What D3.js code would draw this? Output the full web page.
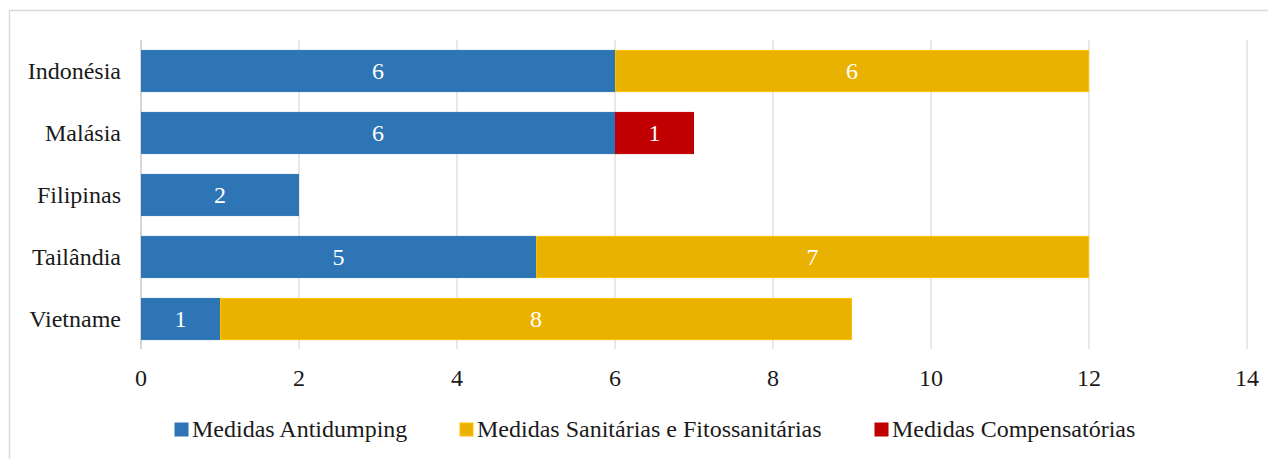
<!DOCTYPE html>
<html>
<head>
<meta charset="utf-8">
<script src="https://cdn.jsdelivr.net/npm/d3@7"></script>
<style>
  body { margin: 0; background: #fff; }
  svg { display: block; font-family: "Liberation Serif", "Times New Roman", serif; }
</style>
</head>
<body>
<svg id="chart" width="1268" height="459"></svg>
<script>
// Chart data
const countries = ["Indonésia", "Malásia", "Filipinas", "Tailândia", "Vietname"];
const series = ["Medidas Antidumping", "Medidas Sanitárias e Fitossanitárias", "Medidas Compensatórias"];
const antidumping = [6, 6, 2, 5, 1];
const sanitarias = [6, 0, 0, 7, 8];
const compensatorias = [0, 1, 0, 0, 0];
const xTicks = [0, 2, 4, 6, 8, 10, 12, 14];

const colors = ["#2E75B6", "#EAB200", "#C00000"];
const strokes = ["#2E75B6", "#FFC000", "#C00000"];
const fontSize = 24;

const svg = d3.select("#chart");

// outer chart border (cropped on right / bottom)
svg.append("path")
  .attr("d", "M9.5,459 V10.5 H1268")
  .attr("fill", "none")
  .attr("stroke", "#d9d9d9")
  .attr("stroke-width", 1.5);

const x = d3.scaleLinear().domain([0, 14]).range([141, 1247]);
const y = d3.scaleBand().domain(countries).range([40, 350]).paddingInner(0.32).paddingOuter(0.16);

// gridlines
svg.append("g").selectAll("line")
  .data(xTicks)
  .join("line")
  .attr("x1", d => x(d)).attr("x2", d => x(d))
  .attr("y1", 40).attr("y2", 349)
  .attr("stroke", d => d === 0 ? "#c8c8c8" : "#e0e0e0")
  .attr("stroke-width", 1.5);

// stack
const rows = countries.map((c, i) => ({
  country: c,
  [series[0]]: antidumping[i],
  [series[1]]: sanitarias[i],
  [series[2]]: compensatorias[i]
}));
const stacked = d3.stack().keys(series)(rows);

const layers = svg.append("g").selectAll("g")
  .data(stacked)
  .join("g")
  .attr("fill", (d, i) => colors[i])
  .attr("stroke", (d, i) => strokes[i]);

layers.selectAll("rect")
  .data(d => d.filter(p => p[1] > p[0]))
  .join("rect")
  .attr("x", p => x(p[0]) + 0.5)
  .attr("y", p => y(p.data.country) + 0.5)
  .attr("width", p => x(p[1]) - x(p[0]) - 1)
  .attr("height", y.bandwidth() - 1)
  .attr("stroke-width", 1);

// value labels
layers.selectAll("text")
  .data(d => d.filter(p => p[1] > p[0]))
  .join("text")
  .attr("x", p => (x(p[0]) + x(p[1])) / 2)
  .attr("y", p => y(p.data.country) + y.bandwidth() / 2)
  .attr("dy", "0.35em")
  .attr("text-anchor", "middle")
  .attr("fill", "#fff")
  .attr("stroke", "none")
  .attr("font-size", fontSize)
  .text(p => p[1] - p[0]);

// y axis labels
svg.append("g").selectAll("text")
  .data(countries)
  .join("text")
  .attr("x", 121)
  .attr("y", d => y(d) + y.bandwidth() / 2)
  .attr("dy", "0.35em")
  .attr("text-anchor", "end")
  .attr("font-size", fontSize)
  .attr("fill", "#1a1a1a")
  .text(d => d);

// x axis labels
svg.append("g").selectAll("text")
  .data(xTicks)
  .join("text")
  .attr("x", d => x(d))
  .attr("y", 386)
  .attr("text-anchor", "middle")
  .attr("font-size", fontSize)
  .attr("fill", "#1a1a1a")
  .text(d => d);

// legend
const legendX = [175, 460, 875];
const legend = svg.append("g").selectAll("g")
  .data(series)
  .join("g")
  .attr("transform", (d, i) => `translate(${legendX[i]},423)`);

legend.append("rect")
  .attr("width", 13).attr("height", 13)
  .attr("fill", (d, i) => colors[i])
  .attr("stroke", (d, i) => strokes[i]);

legend.append("text")
  .attr("x", 17)
  .attr("y", 14)
  .attr("font-size", fontSize)
  .attr("fill", "#1a1a1a")
  .text(d => d);
</script>
</body>
</html>
